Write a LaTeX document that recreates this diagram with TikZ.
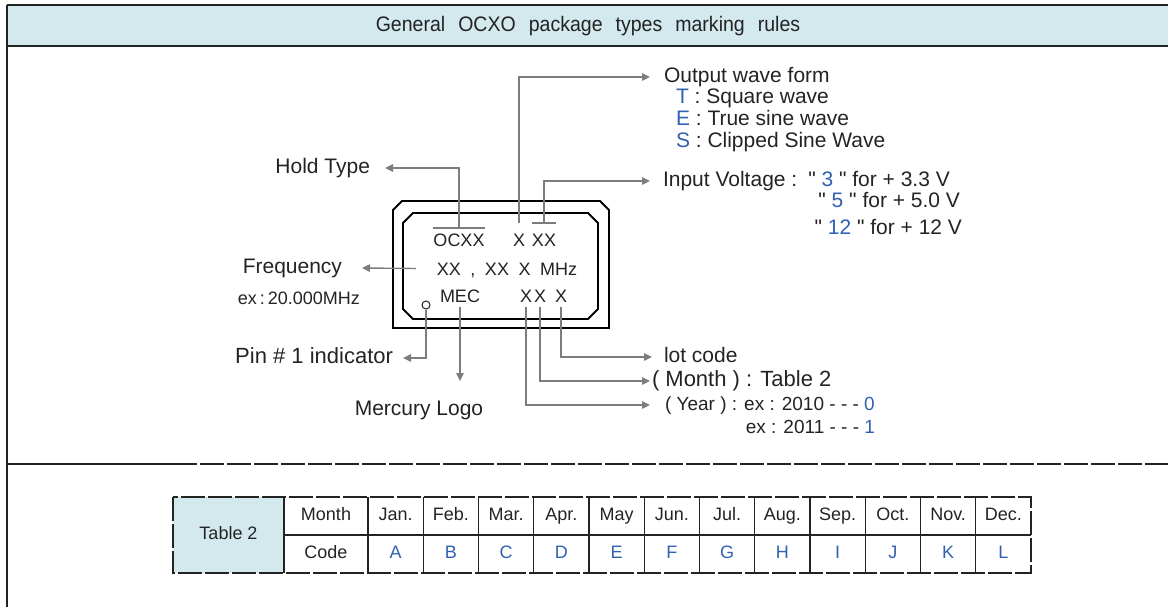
\documentclass[tikz,border=0pt]{standalone}
\usepackage{fontspec}
\setmainfont{Liberation Sans}
\newfontfamily\titlefont[FakeStretch=0.93,WordSpace=2.4]{Liberation Sans}
\newfontfamily\widefont[WordSpace=1.9]{Liberation Sans}
\usetikzlibrary{arrows.meta,positioning}

\definecolor{hdrblue}{RGB}{211,233,238}
\definecolor{codeblue}{RGB}{48,96,176}
\definecolor{leadgray}{RGB}{125,125,125}
\definecolor{ink}{RGB}{35,35,35}

\newcommand\cb[1]{\textcolor{codeblue}{#1}}
\newcommand\qq{\textquotedbl}

\tikzset{
  frame/.style={draw=ink, line width=1.6pt},
  chip/.style={draw=black, line width=1.8pt},
  lead/.style={draw=leadgray, line width=1.4pt, -{Triangle[length=8pt,width=7.5pt]}},
  bar/.style={draw=leadgray, line width=1.4pt},
  lbl/.style={font=\fontsize{21}{25}\selectfont, text=ink, inner sep=0pt, outer sep=0pt,
              text height=15pt, text depth=4pt},
  chiptxt/.style={font=\fontsize{18}{22}\selectfont, text=ink, inner sep=0pt, outer xsep=0pt,
                  outer ysep=5pt, text height=13pt, text depth=0pt, anchor=base},
  cell/.style={font=\fontsize{18}{22}\selectfont, text=ink, minimum width=55.25pt,
               minimum height=38pt, inner sep=0pt, text height=13pt, text depth=4pt},
  title/.style={font=\titlefont\fontsize{21}{25}\selectfont, text=ink, inner sep=0pt},
  grid/.style={draw=ink, line width=1.3pt},
}

\begin{document}
\begin{tikzpicture}[x=1pt, y=-1pt]
\useasboundingbox (0,0) rectangle (1168,607);

% header band and frame
\fill[hdrblue] (7,5) rectangle (1168,46);
\draw[frame] (7,5) -- (1168,5);
\draw[frame] (7,46) -- (1168,46);
\draw[frame] (7,5) -- (7,607);
\node[title] (title) at (588,26) {General OCXO package types marking rules};

% package outline
\draw[chip] (402,201) -- (600,201) -- (609,210) -- (609,328) -- (393,328) -- (393,210) -- cycle;
\draw[chip] (413,213) -- (588,213) -- (598,223) -- (598,309) -- (588,319) -- (413,319)
            -- (403,309) -- (403,223) -- cycle;

% marking on the package
\node[chiptxt] (ocxx) at (459,246) {OCXX};
\node[chiptxt, outer ysep=10pt] (xa) at (519,246) {X};
\node[chiptxt, outer ysep=10pt] (xb) at (544,246) {XX};
\node[chiptxt, outer xsep=21pt, font=\widefont\fontsize{18}{22}\selectfont] (mhz) at (507,275) {XX , XX X MHz};
\node[draw=ink, line width=1pt, circle, minimum size=8pt, inner sep=0pt] (pin) at (426,305) {};
\node[chiptxt] (mec) at (460,302) {MEC};
\node[chiptxt] (ya) at (526,302) {X};
\node[chiptxt] (yb) at (540,302) {X};
\node[chiptxt] (yc) at (561,302) {X};
\draw[bar] (ocxx.north west) -- (ocxx.north east);
\draw[bar] (xb.north west) -- (xb.north east);

% labels
\node[lbl, anchor=east, outer xsep=15pt] (hold) at (385,168) {Hold Type};
\node[lbl, anchor=east, outer xsep=20pt] (freq) at (362,268) {Frequency};
\node[lbl, anchor=east, font=\fontsize{18}{22}\selectfont] (exfreq) at (360,299) {ex\,:\,20.000MHz};
\node[lbl, anchor=east, outer xsep=10pt, font=\fontsize{22}{26}\selectfont]
     (pinlbl) at (403,358) {Pin \# 1 indicator};
\node[lbl, anchor=north] (logo) at (419,400) {Mercury Logo};
\coordinate (logotip) at (460,381);

\node[lbl, anchor=west, outer xsep=14pt] (wave) at (650,77) {Output wave form};
\node[lbl, anchor=west] (sqw) at (676,98) {\cb{T} : Square wave};
\node[lbl, anchor=west] (tsw) at (676,120) {\cb{E} : True sine wave};
\node[lbl, anchor=west] (csw) at (676,142) {\cb{S} : Clipped Sine Wave};
\node[lbl, anchor=west, outer xsep=13pt] (volt) at (650,181)
     {Input Voltage :\hspace{11pt}\qq\ \cb{3}\ \qq\ for + 3.3 V};
\node[lbl, anchor=east] (v5) at (960,202) {\qq\ \cb{5}\ \qq\ for + 5.0 V};
\node[lbl, anchor=east] (v12) at (962,229) {\qq\ \cb{12}\ \qq\ for + 12 V};

\node[lbl, anchor=west, outer xsep=12pt] (lot) at (652,357) {lot code};
\node[lbl, anchor=west, outer xsep=2pt, font=\fontsize{22}{26}\selectfont] (month) at (650,381) {( Month ) : Table 2};
\node[lbl, anchor=west, outer xsep=15pt, font=\fontsize{19}{23}\selectfont] (year) at (650,405)
     {( Year ) : ex : 2010 - - - \cb{0}};
\node[lbl, anchor=east, font=\fontsize{19}{23}\selectfont] (ex11) at (875,428) {ex : 2011 - - - \cb{1}};

% leads
\draw[lead] (ocxx) |- (hold);
\draw[lead] (mhz.west) -- (freq.east);
\draw[lead] (pin) |- (pinlbl);
\draw[lead] (mec) -- (logotip);
\draw[lead] (xa) |- (wave);
\draw[lead] (xb) |- (volt);
\draw[lead] (yc) |- (lot);
\draw[lead] (yb) |- (month);
\draw[lead] (ya) |- (year);

% separator
\draw[grid] (7,464) -- (173,464);
\draw[grid, dash pattern=on 24pt off 3pt] (173,464) -- (1168,464);

% table 2
\fill[hdrblue] (173,497) rectangle (284,573);
\node[cell] (tab) at (228.5,535) {Table 2};
\node[cell, minimum width=84pt] (mhead) at (326,516) {Month};
\node[cell, minimum width=84pt] (chead) at (326,554) {Code};
\foreach \mon/\cod [count=\i from 0] in {Jan./A, Feb./B, Mar./C, Apr./D, May/E, Jun./F,
    Jul./G, Aug./H, Sep./I, Oct./J, Nov./K, Dec./L} {
  \node[cell] (mon\i) at ({395.625+\i*55.25},516) {\mon};
  \node[cell, text=codeblue] (cod\i) at ({395.625+\i*55.25},554) {\cod};
}
\draw[grid] (284,535) -- (1031,535);
\draw[grid] (284,497) -- (284,573);
\foreach \i in {0,...,11}
  \draw[grid] ({368+\i*55.25},497) -- ({368+\i*55.25},573);
\draw[grid, dash pattern=on 24pt off 3pt] (173,497) rectangle (1031,573);
\end{tikzpicture}
\end{document}
